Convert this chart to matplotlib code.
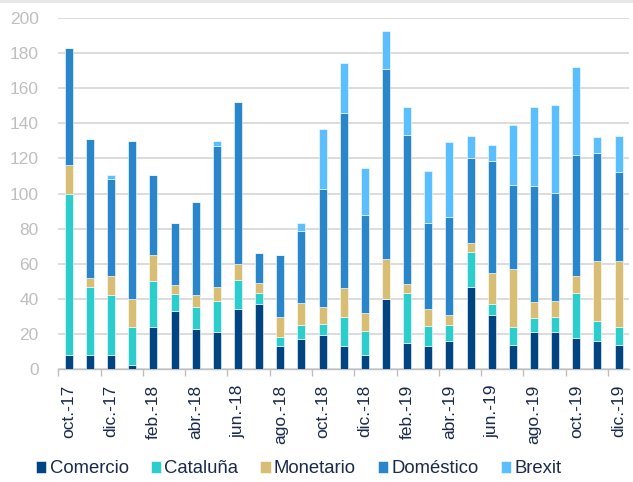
import matplotlib
matplotlib.use("Agg")
import matplotlib.pyplot as plt
import numpy as np

plt.rcParams['font.family'] = ['Liberation Sans', 'DejaVu Sans']

months = ["oct.-17", "nov.-17", "dic.-17", "ene.-18", "feb.-18", "mar.-18", "abr.-18",
          "may.-18", "jun.-18", "jul.-18", "ago.-18", "sep.-18", "oct.-18", "nov.-18",
          "dic.-18", "ene.-19", "feb.-19", "mar.-19", "abr.-19", "may.-19", "jun.-19",
          "jul.-19", "ago.-19", "sep.-19", "oct.-19", "nov.-19", "dic.-19"]

comercio = [8, 8, 8, 2.5, 24, 33, 23, 21, 34, 37, 13, 17, 19.5, 13,
            8, 40, 15, 13, 16, 47, 31, 14, 21, 21, 17.5, 16, 14]
cataluna = [92, 39, 34, 21.5, 26, 10, 12.5, 18, 17, 6.5, 5.5, 8, 6, 17,
            14, 0, 28.5, 11.5, 9, 19.5, 6, 10, 8, 9, 26, 11.5, 10]
monetario = [16, 5, 11, 16, 15, 5, 7, 8, 9, 5.5, 11.5, 12.5, 10, 16,
             10, 23, 5, 10, 6, 5.5, 18, 33, 9, 9, 9.5, 34, 37.5]
domestico = [67, 79, 55, 90, 45.5, 35, 52.5, 80, 92, 17, 35, 41, 67, 100,
             55.5, 108, 85, 49, 55.5, 48, 63.5, 48, 66, 61.5, 69, 61.5, 51]
brexit = [0, 0, 2.5, 0, 0, 0, 0, 3, 0, 0, 0, 4.5, 34, 28.5,
          27, 21.5, 15.5, 29.5, 43, 12.5, 9, 34, 45, 50, 50, 9, 20.5]

series = [("Comercio", comercio, "#004481"),
          ("Cataluña", cataluna, "#2DCCCD"),
          ("Monetario", monetario, "#D8BE75"),
          ("Doméstico", domestico, "#2A86CA"),
          ("Brexit", brexit, "#5BBEFF")]

text_col = "#1B2A4A"
grid_col = "#D9D9D9"

fig = plt.figure(figsize=(6.33, 4.82), dpi=100)
ax = fig.add_axes([0.092, 0.234, 0.902, 0.729])

x = np.arange(len(months))
bottom = np.zeros(len(months))
for name, vals, col in series:
    vals = np.array(vals, dtype=float)
    ax.bar(x, vals, 0.38, bottom=bottom, color=col, label=name,
           edgecolor="white", linewidth=0.4, zorder=3)
    bottom += vals

ax.set_ylim(0, 200)
ax.set_xlim(-0.5, len(months) - 0.5)
ax.set_yticks(np.arange(0, 201, 20))
ax.yaxis.grid(True, color=grid_col, linewidth=1.3, zorder=0)
ax.set_axisbelow(True)

ax.set_xticks(x[::2])
ax.set_xticklabels(months[::2], rotation=90, color=text_col, fontsize=12.5)
ax.set_xticks(np.arange(-0.5, len(months), 2), minor=True)
ax.tick_params(axis='x', which='major', length=0, pad=11)
ax.tick_params(axis='x', which='minor', length=5, color="#BFBFBF", width=1)
ax.tick_params(axis='y', length=0, pad=14, labelcolor="#BFBFBF", labelsize=12.5)

for s in ["top", "right", "left"]:
    ax.spines[s].set_visible(False)
ax.spines["bottom"].set_color("#BFBFBF")
ax.spines["bottom"].set_linewidth(1)

leg = fig.legend(loc="center", bbox_to_anchor=(0.472, 0.027), ncol=5, frameon=False,
                 fontsize=13.3, handlelength=0.55, handleheight=0.55,
                 handletextpad=0.18, columnspacing=1.2)
for t in leg.get_texts():
    t.set_color(text_col)

fig.add_artist(plt.Line2D([0, 1], [0.998, 0.998], color="#E6E6E6", linewidth=2))

fig.savefig("out.png", dpi=100)
